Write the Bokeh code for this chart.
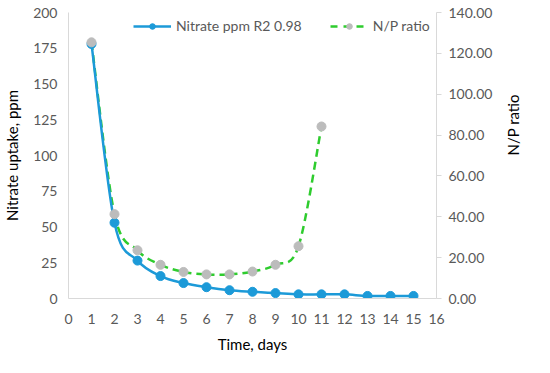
import math
from bokeh.plotting import figure
from bokeh.models import (Range1d, LinearAxis, FixedTicker, NumeralTickFormatter,
                          Legend, LegendItem, ColumnDataSource)
from bokeh.embed import file_html
from bokeh.resources import INLINE

# ---- data ----
days = [1, 2, 3, 4, 5, 6, 7, 8, 9, 10, 11, 12, 13, 14, 15]
nitrate_ppm = [178, 53, 26.5, 15.7, 10.8, 7.9, 5.8, 4.7, 3.8, 2.9, 2.9, 2.9, 1.8, 1.8, 1.8]
np_days = [1, 2, 3, 4, 5, 6, 7, 8, 9, 10, 11]
np_ratio = [125.4, 41.3, 23.6, 16.5, 13.0, 11.8, 11.8, 13.2, 16.5, 25.6, 84.2]
x_ticks = list(range(0, 17))
left_ticks = [0, 25, 50, 75, 100, 125, 150, 175, 200]
right_ticks = [0, 20, 40, 60, 80, 100, 120, 140]

FONT = "Lato"
BLUE = "#1c9ad8"
GREEN = "#2ecc2e"
GREY_PT = "#bcbcbc"
AXIS_GREY = "#d9d9d9"
TXT = "#595959"


def smooth(xs, ys):
    """Bezier segments (Catmull-Rom style) through the data points."""
    n = len(xs)
    d = dict(x0=[], y0=[], x1=[], y1=[], cx0=[], cy0=[], cx1=[], cy1=[])
    for i in range(n - 1):
        a = max(i - 1, 0)
        b = min(i + 2, n - 1)
        d["x0"].append(xs[i]); d["y0"].append(ys[i])
        d["x1"].append(xs[i + 1]); d["y1"].append(ys[i + 1])
        d["cx0"].append(xs[i] + (xs[i + 1] - xs[a]) / 6)
        d["cy0"].append(ys[i] + (ys[i + 1] - ys[a]) / 6)
        d["cx1"].append(xs[i + 1] - (xs[b] - xs[i]) / 6)
        d["cy1"].append(ys[i + 1] - (ys[b] - ys[i]) / 6)
    return ColumnDataSource(d)


p = figure(width=534, height=357, output_backend="svg", toolbar_location=None,
           x_range=Range1d(0, 16), y_range=Range1d(0, 200),
           min_border_left=67, min_border_right=94, min_border_top=12,
           min_border_bottom=59)
p.outline_line_color = None
p.xgrid.visible = False
p.ygrid.visible = False
p.extra_y_ranges = {"np": Range1d(0, 140)}

for ax in (p.xaxis[0], p.yaxis[0]):
    ax.axis_line_color = AXIS_GREY
    ax.axis_line_width = 1
    ax.major_tick_line_color = None
    ax.major_tick_out = 0
    ax.major_tick_in = 0
    ax.minor_tick_line_color = None
    ax.minor_tick_out = 0
    ax.minor_tick_in = 0
    ax.major_label_text_color = TXT
    ax.major_label_text_font = FONT
    ax.major_label_text_font_size = "14px"
    ax.axis_label_text_font = FONT
    ax.axis_label_text_font_size = "15px"
    ax.axis_label_text_font_style = "normal"
    ax.axis_label_text_color = "#000000"

p.xaxis.ticker = FixedTicker(ticks=x_ticks)
p.xaxis.axis_label = "Time, days"
p.xaxis.major_label_standoff = 15
p.xaxis.axis_label_standoff = 8

p.yaxis.ticker = FixedTicker(ticks=left_ticks)
p.yaxis.axis_label = "Nitrate uptake, ppm"
p.yaxis.major_label_standoff = 11
p.yaxis.axis_label_standoff = 9

yr = LinearAxis(y_range_name="np", ticker=FixedTicker(ticks=right_ticks),
                formatter=NumeralTickFormatter(format="0.00"),
                axis_label="N/P ratio")
yr.axis_line_color = AXIS_GREY
yr.major_tick_line_color = AXIS_GREY
yr.major_tick_out = 5
yr.major_tick_in = 0
yr.minor_tick_line_color = None
yr.minor_tick_out = 0
yr.minor_tick_in = 0
yr.major_label_text_color = TXT
yr.major_label_text_font = FONT
yr.major_label_text_font_size = "14px"
yr.major_label_standoff = 7
yr.axis_label_text_font = FONT
yr.axis_label_text_font_size = "15px"
yr.axis_label_text_font_style = "normal"
yr.axis_label_text_color = "#000000"
yr.axis_label_standoff = 18
if "axis_label_orientation" in yr.properties():
    yr.axis_label_orientation = math.pi / 2
p.add_layout(yr, "right")

p.bezier(x0="x0", y0="y0", x1="x1", y1="y1", cx0="cx0", cy0="cy0", cx1="cx1", cy1="cy1",
         source=smooth(np_days, np_ratio), y_range_name="np",
         line_color=GREEN, line_width=2.5, line_dash="8 5")
p.bezier(x0="x0", y0="y0", x1="x1", y1="y1", cx0="cx0", cy0="cy0", cx1="cx1", cy1="cy1",
         source=smooth(days, nitrate_ppm), line_color=BLUE, line_width=2.5)
p.scatter(days, nitrate_ppm, size=9, fill_color=BLUE, line_color=BLUE)
p.scatter(np_days, np_ratio, y_range_name="np", size=9,
          fill_color=GREY_PT, line_color=GREY_PT)

# legend proxies (hidden renderers, drawn only in the legend)
lg_blue_line = p.line(days, nitrate_ppm, line_color=BLUE, line_width=2.5, visible=False)
lg_blue_pt = p.scatter(days, nitrate_ppm, size=6, fill_color=BLUE, line_color=BLUE, visible=False)
lg_green_line = p.line(np_days, np_ratio, y_range_name="np", line_color=GREEN,
                       line_width=2.5, line_dash="7 6", visible=False)
lg_grey_pt = p.scatter(np_days, np_ratio, y_range_name="np", size=6,
                       fill_color=GREY_PT, line_color=GREY_PT, visible=False)

legend = Legend(items=[
    LegendItem(label="Nitrate ppm R2 0.98", renderers=[lg_blue_line, lg_blue_pt]),
    LegendItem(label="N/P ratio", renderers=[lg_green_line, lg_grey_pt]),
], orientation="horizontal", location=(65, 264))
legend.background_fill_alpha = 0
legend.border_line_color = None
legend.inactive_fill_alpha = 0
legend.padding = 0
legend.margin = 0
legend.spacing = 28
legend.glyph_width = 38
legend.glyph_height = 14
legend.label_height = 14
legend.label_standoff = 5
legend.label_text_font = FONT
legend.label_text_font_size = "14px"
legend.label_text_color = TXT
p.add_layout(legend, "center")

open("out.html", "w").write(file_html(p, INLINE))
